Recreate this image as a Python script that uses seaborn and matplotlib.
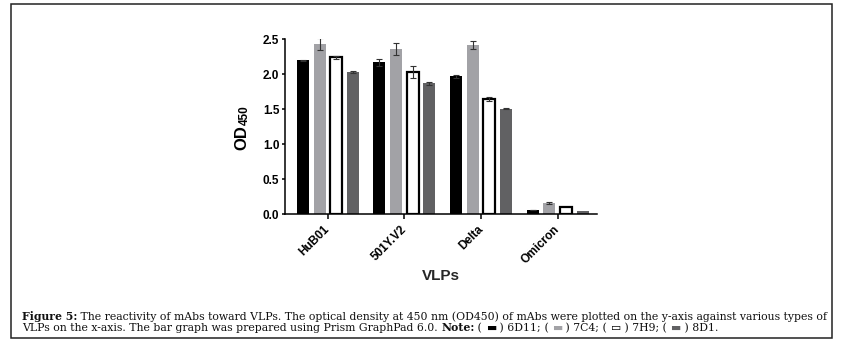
import numpy as np
import pandas as pd
import matplotlib
matplotlib.use('Agg')
import matplotlib.pyplot as plt
from matplotlib.patches import Rectangle
import seaborn as sns

sns.set_theme(style='ticks')
plt.rcParams['font.family'] = ['Liberation Sans', 'DejaVu Sans']

# data
vlps = ['HuB01', '501Y.V2', 'Delta', 'Omicron']
mabs = ['6D11', '7C4', '7H9', '8D1']
od_6d11 = [2.20, 2.17, 1.97, 0.06]
od_7c4 = [2.43, 2.36, 2.42, 0.16]
od_7h9 = [2.24, 2.03, 1.65, 0.11]
od_8d1 = [2.03, 1.87, 1.51, 0.04]
err_6d11 = [0.005, 0.05, 0.02, 0.005]
err_7c4 = [0.09, 0.09, 0.06, 0.015]
err_7h9 = [0.02, 0.09, 0.03, 0.0]
err_8d1 = [0.01, 0.02, 0.005, 0.0]
bar_colors = ['#000000', '#a2a2a6', '#ffffff', '#616163']

df = pd.DataFrame({
    'vlp': vlps * 4,
    'mab': np.repeat(mabs, 4),
    'od': od_6d11 + od_7c4 + od_7h9 + od_8d1,
    'err': err_6d11 + err_7c4 + err_7h9 + err_8d1,
})

fig = plt.figure(figsize=(8.43, 3.53), dpi=100)
ax = fig.add_axes([0.338, 0.393, 0.370, 0.496])

sns.barplot(data=df, x='vlp', y='od', hue='mab', order=vlps, hue_order=mabs,
            palette=bar_colors, width=0.87, gap=0.28, errorbar=None,
            saturation=1, linewidth=0, legend=False, ax=ax)

# white bars get a black outline, error bars from the bar positions
for container, mab in zip(ax.containers, mabs):
    errs = df[df['mab'] == mab]['err'].values
    for bar, e in zip(container, errs):
        if mab == '7H9':
            bar.set_edgecolor('black')
            bar.set_linewidth(1.6)
        xc = bar.get_x() + bar.get_width() / 2
        if e > 0:
            ax.errorbar(xc, bar.get_height(), yerr=e, color='#333333',
                        elinewidth=0.8, capsize=2, capthick=0.8, zorder=4)

ax.set_xlim(-0.56, 3.51)
ax.set_ylim(0, 2.5)
ax.set_yticks(np.arange(0, 2.51, 0.5))
ax.set_yticklabels([f'{v:.1f}' for v in np.arange(0, 2.51, 0.5)])
sns.despine(ax=ax)
for s in ['left', 'bottom']:
    ax.spines[s].set_linewidth(1.1)
    ax.spines[s].set_color('black')
ax.tick_params(axis='y', width=1.1, length=2.5, pad=1.5, labelsize=8.5, colors='black')
ax.tick_params(axis='x', width=1.1, length=3.5, pad=6, labelsize=8.5, colors='black')
for lab in ax.get_yticklabels():
    lab.set_fontweight('bold')
for lab in ax.get_xticklabels():
    lab.set_fontweight('bold')
    lab.set_rotation(45)
    lab.set_ha('right')
    lab.set_va('center')
    lab.set_rotation_mode('anchor')

# y label "OD" with a subscript "450" hung off its end
ylab = ax.set_ylabel('OD', fontsize=12, fontweight='bold', color='black')
ax.yaxis.set_label_coords(-0.115, 0.44)
ax.annotate('450', xy=(1, 1), xycoords=ylab, xytext=(1.5, 0),
            textcoords='offset points', rotation=90, ha='right', va='bottom',
            fontsize=8.5, fontweight='bold', color='black', annotation_clip=False)
ax.set_xlabel('VLPs', fontsize=11, fontweight='bold')
ax.xaxis.set_label_coords(0.5, -0.315)

# outer frame
fig.patches.append(Rectangle((11 / 843, 1 - 338 / 353), 821 / 843, 334 / 353,
                             transform=fig.transFigure, fill=False,
                             edgecolor='#222222', linewidth=1.1))

# caption with inline legend swatches
serif = dict(family=['DejaVu Serif'], fontsize=7.85, color='#111111')
bold = dict(serif, fontweight='bold')


def caption_line(pieces, x, y):
    t = fig.text(x, y, pieces[0][0], va='baseline', **pieces[0][1])
    for s, kw in pieces[1:]:
        t = ax.annotate(s, xy=(1, 0), xycoords=t, va='bottom',
                        annotation_clip=False, **kw)


caption_line([
    ('Figure 5:', bold),
    (' The reactivity of mAbs toward VLPs. The optical density at 450 nm (OD450) '
     'of mAbs were plotted on the y-axis against various types of', serif),
], 22 / 843, 1 - 320 / 353)

line2 = [('VLPs on the x-axis. The bar graph was prepared using Prism GraphPad 6.0. ', serif),
         ('Note:', bold)]
for i, (mab, col) in enumerate(zip(mabs, bar_colors)):
    sw = '\u25ad' if col == '#ffffff' else '\u25ac'
    swc = 'black' if col == '#ffffff' else col
    line2.append((' ( ', serif))
    line2.append((sw, dict(family=['DejaVu Serif', 'DejaVu Sans'], fontsize=7.85, color=swc)))
    line2.append((' ) ' + mab + ('.' if i == 3 else ';'), serif))
caption_line(line2, 22 / 843, 1 - 331 / 353)

fig.savefig('out.png', dpi=100)
